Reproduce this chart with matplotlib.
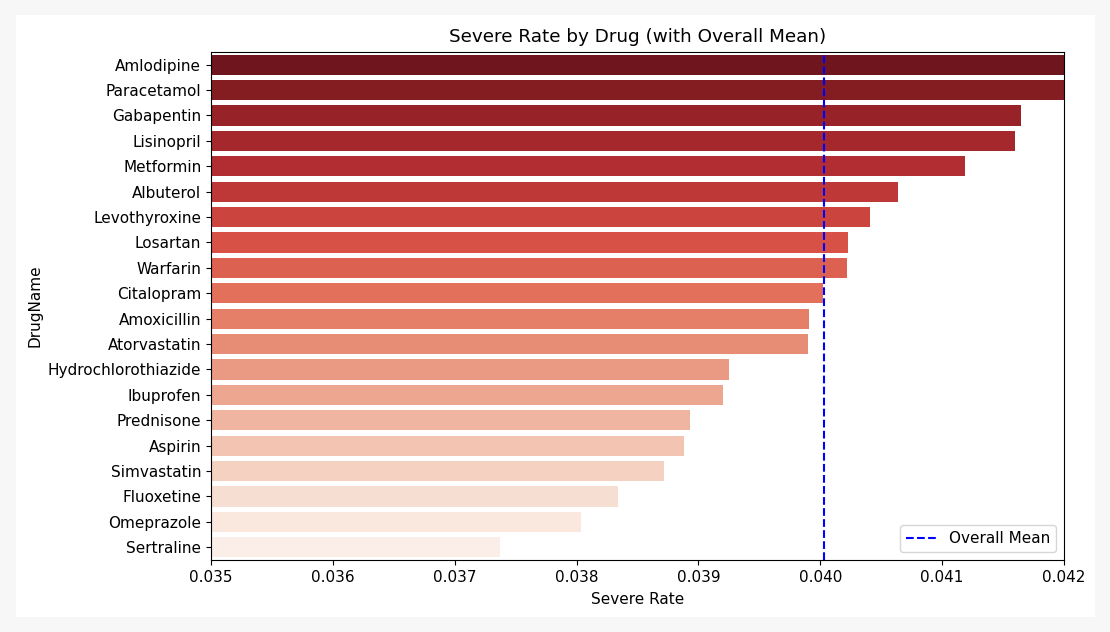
import numpy as np
import pandas as pd
import matplotlib
matplotlib.use('Agg')
import matplotlib.pyplot as plt
import seaborn as sns
from matplotlib.patches import Rectangle

drugs = ['Amlodipine', 'Paracetamol', 'Gabapentin', 'Lisinopril', 'Metformin',
         'Albuterol', 'Levothyroxine', 'Losartan', 'Warfarin', 'Citalopram',
         'Amoxicillin', 'Atorvastatin', 'Hydrochlorothiazide', 'Ibuprofen',
         'Prednisone', 'Aspirin', 'Simvastatin', 'Fluoxetine', 'Omeprazole',
         'Sertraline']
severe_rate = [0.04330, 0.04280, 0.041645, 0.04160, 0.04119,
               0.04064, 0.04041, 0.04023, 0.04022, 0.04002,
               0.03991, 0.03990, 0.03925, 0.03920,
               0.03893, 0.03888, 0.03872, 0.03834, 0.03804,
               0.03737]

df = pd.DataFrame({'DrugName': drugs, 'Severe Rate': severe_rate})
overall_mean = np.mean(severe_rate)

plt.rcParams['font.size'] = 11

fig = plt.figure(figsize = (11.1, 6.32), dpi = 100)
fig.patch.set_facecolor('#f7f7f7')
fig.patches.append(Rectangle((16 / 1110, 1 - 617 / 632), 1079 / 1110, 602 / 632,
                             transform = fig.transFigure, facecolor = 'white',
                             edgecolor = 'none', zorder = -10))

ax = fig.add_axes([211 / 1110, 1 - 560 / 632, 853 / 1110, 508 / 632])
sns.barplot(data = df, x = 'Severe Rate', y = 'DrugName', hue = 'DrugName',
            palette = 'Reds_r', legend = False, ax = ax)
ax.axvline(overall_mean, color = 'blue', linestyle = '--', label = 'Overall Mean')
ax.set_xlim(0.035, 0.042)
ax.set_title('Severe Rate by Drug (with Overall Mean)', fontsize = 13.2, pad = 7)
ax.set_xlabel('Severe Rate', labelpad = 5)
ax.set_ylabel('DrugName')
ax.legend(loc = 'lower right')

fig.savefig('out.png', dpi = 100, facecolor = fig.get_facecolor())
